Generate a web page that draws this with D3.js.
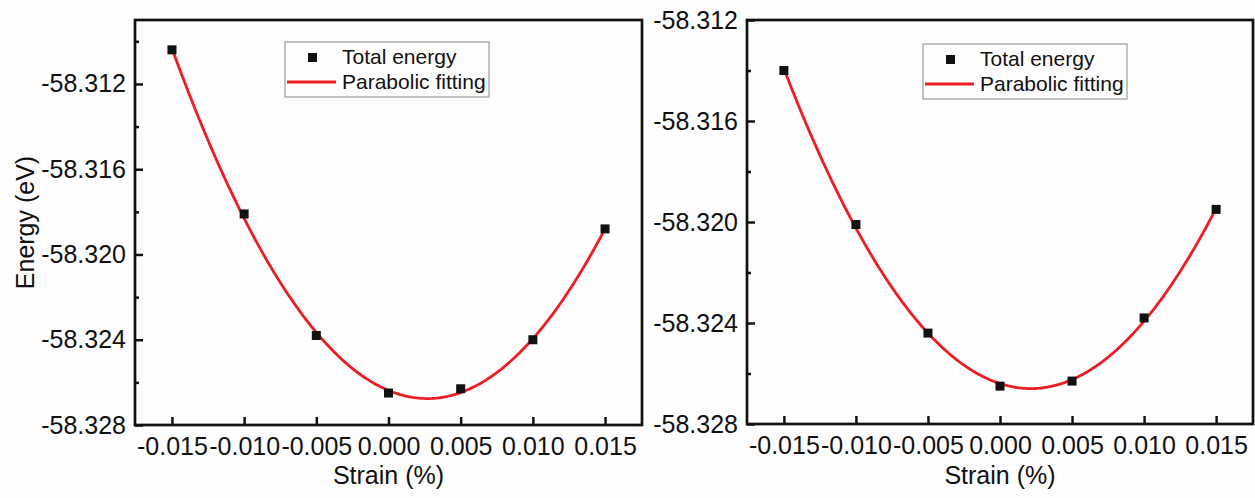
<!DOCTYPE html>
<html>
<head>
<meta charset="utf-8">
<script src="https://cdn.jsdelivr.net/npm/d3@7"></script>
<style>
  body { margin: 0; background: #fdfdfd; }
  svg { display: block; font-family: "Liberation Sans", Arial, sans-serif; }
  .tick text { fill: #111; }
</style>
</head>
<body>
<div class="report"></div>
<script>
// strain values (x) shared by both panels
var strain = [-0.015, -0.010, -0.005, 0.000, 0.005, 0.010, 0.015];
// total energy (eV), left panel
var energyLeft = [-58.3104, -58.3181, -58.3238, -58.3265, -58.3263, -58.3240, -58.3188];
// total energy (eV), right panel
var energyRight = [-58.3140, -58.3201, -58.3244, -58.3265, -58.3263, -58.3238, -58.3195];

var xTicks = [-0.015, -0.010, -0.005, 0.000, 0.005, 0.010, 0.015];
var yTicks = [-58.328, -58.324, -58.320, -58.316, -58.312];
var yMinorLeft = [-58.326, -58.322, -58.318, -58.314, -58.310];
var yMinorRight = [-58.326, -58.322, -58.318, -58.314];
var legendLabels = ["Total energy", "Parabolic fitting"];

var red = "#ee1c24";
var fmt = function (d) { return d3.format(".3f")(d).replace("\u2212", "-"); };

// least squares fit of y = a + b x + c x^2
function parabola(xs, ys) {
    var n = xs.length, s = [0, 0, 0, 0, 0], t = [0, 0, 0];
    for (var i = 0; i < n; i++) {
        var p = 1;
        for (var k = 0; k < 5; k++) { s[k] += p; if (k < 3) t[k] += p * ys[i]; p *= xs[i]; }
    }
    var m = [[s[0], s[1], s[2], t[0]], [s[1], s[2], s[3], t[1]], [s[2], s[3], s[4], t[2]]];
    for (var c = 0; c < 3; c++) {
        for (var r = c + 1; r < 3; r++) {
            var f = m[r][c] / m[c][c];
            for (var j = c; j < 4; j++) m[r][j] -= f * m[c][j];
        }
    }
    var sol = [0, 0, 0];
    for (var r2 = 2; r2 >= 0; r2--) {
        var v = m[r2][3];
        for (var j2 = r2 + 1; j2 < 3; j2++) v -= m[r2][j2] * sol[j2];
        sol[r2] = v / m[r2][r2];
    }
    return function (x) { return sol[0] + sol[1] * x + sol[2] * x * x; };
}

var svg = d3.select(".report").append("svg:svg").attr("width", 1255).attr("height", 498);

function drawPanel(cfg) {
    var x = d3.scaleLinear().domain([-0.01756, 0.01756]).range([cfg.left, cfg.right]);
    var y = d3.scaleLinear().domain(cfg.yDomain).range([cfg.bottom, cfg.top]);
    var g = svg.append("g");

    var xAxis = g.append("g")
        .attr("transform", "translate(0," + cfg.bottom + ")")
        .call(d3.axisBottom(x).tickValues(xTicks).tickSize(-8).tickPadding(12).tickFormat(fmt));
    xAxis.select(".domain").remove();
    xAxis.selectAll("line").attr("stroke", "#111").attr("stroke-width", 2.5);
    xAxis.selectAll("text").attr("font-size", 25).attr("font-family", "Liberation Sans, Arial, sans-serif");

    var yAxis = g.append("g")
        .attr("transform", "translate(" + cfg.left + ",0)")
        .call(d3.axisLeft(y).tickValues(yTicks).tickSize(-8).tickPadding(9).tickFormat(fmt));
    yAxis.select(".domain").remove();
    yAxis.selectAll("line").attr("stroke", "#111").attr("stroke-width", 2.5);
    yAxis.selectAll("text").attr("font-size", 25).attr("font-family", "Liberation Sans, Arial, sans-serif");

    var yMinor = g.append("g")
        .attr("transform", "translate(" + cfg.left + ",0)")
        .call(d3.axisLeft(y).tickValues(cfg.yMinor).tickSize(-4).tickFormat(""));
    yMinor.select(".domain").remove();
    yMinor.selectAll("line").attr("stroke", "#111").attr("stroke-width", 2.5);

    // frame
    g.append("rect")
        .attr("x", cfg.left).attr("y", cfg.top)
        .attr("width", cfg.right - cfg.left).attr("height", cfg.bottom - cfg.top)
        .attr("fill", "none").attr("stroke", "#111").attr("stroke-width", 2.7);

    // fitted curve
    var fit = parabola(strain, cfg.energy);
    var xs = d3.range(0, 201).map(function (i) { return -0.015 + i * 0.03 / 200; });
    g.append("path")
        .datum(xs)
        .attr("fill", "none").attr("stroke", red).attr("stroke-width", 2.8)
        .attr("d", d3.line().x(function (d) { return x(d); }).y(function (d) { return y(fit(d)); }));

    // data points
    g.selectAll(".pt").data(strain).enter().append("rect")
        .attr("class", "pt")
        .attr("x", function (d) { return x(d) - 4.5; })
        .attr("y", function (d, i) { return y(cfg.energy[i]) - 4.5; })
        .attr("width", 9).attr("height", 9).attr("fill", "#111");

    // axis titles
    g.append("text")
        .attr("x", (cfg.left + cfg.right) / 2).attr("y", 484)
        .attr("text-anchor", "middle").attr("font-size", 25).attr("fill", "#111")
        .text("Strain (%)");
    if (cfg.yTitle) {
        g.append("text")
            .attr("transform", "translate(34," + (cfg.top + cfg.bottom) / 2 + ") rotate(-90)")
            .attr("text-anchor", "middle").attr("font-size", 25).attr("fill", "#111")
            .text(cfg.yTitle);
    }

    // legend
    var lg = g.append("g").attr("transform", "translate(" + cfg.legX + "," + cfg.legY + ")");
    lg.append("rect").attr("width", 204).attr("height", 55)
        .attr("fill", "#fdfdfd").attr("stroke", "#888").attr("stroke-width", 1);
    lg.append("rect").attr("x", 23).attr("y", 11).attr("width", 9).attr("height", 9).attr("fill", "#111");
    lg.append("line").attr("x1", 2).attr("x2", 51).attr("y1", 40).attr("y2", 40)
        .attr("stroke", red).attr("stroke-width", 2.8);
    lg.selectAll(".lt").data(legendLabels).enter().append("text")
        .attr("class", "lt")
        .attr("x", 57).attr("y", function (d, i) { return 22 + i * 25; })
        .attr("font-size", 21).attr("fill", "#111")
        .text(function (d) { return d; });
}

drawPanel({ left: 135, right: 642, top: 20, bottom: 425, yDomain: [-58.328, -58.3090],
    energy: energyLeft, yMinor: yMinorLeft, yTitle: "Energy (eV)", legX: 285, legY: 42 });
drawPanel({ left: 747, right: 1253, top: 20, bottom: 424, yDomain: [-58.328, -58.312],
    energy: energyRight, yMinor: yMinorRight, yTitle: null, legX: 923, legY: 44 });
</script>
</body>
</html>
